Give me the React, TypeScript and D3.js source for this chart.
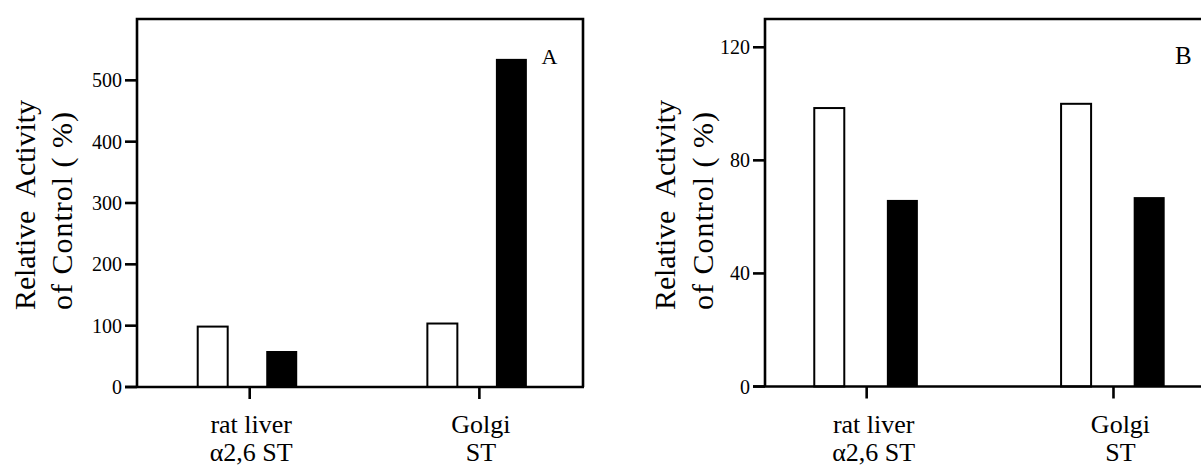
import React from "react";
import * as d3 from "d3";

const categories = ["rat liver|α2,6 ST", "Golgi|ST"];
const series = ["control", "treated"];
const panelAControl = [98.5, 103.5];
const panelATreated = [58.7, 535];
const panelBControl = [98.5, 100];
const panelBTreated = [66, 67];
const panelATicks = [0, 100, 200, 300, 400, 500];
const panelBTicks = [0, 40, 80, 120];
const yLabelLines = ["Relative  Activity", "of Control ( %)"];

const FONT = "'Liberation Serif', 'Times New Roman', serif";

type PanelCfg = {
  letter: string;
  x0: number;
  x1: number;
  yTop: number;
  yBase: number;
  yMax: number;
  ticks: number[];
  control: number[];
  treated: number[];
  pointPad: number;
  pointAlign: number;
  sub0: number;
  sub1: number;
  subPad: number;
  labelDx: number;
  yl1: number;
  yl2: number;
  letterX: number;
  letterSize: number;
};

const panels: PanelCfg[] = [
  {
    letter: "A", x0: 137, x1: 583, yTop: 19, yBase: 387, yMax: 600,
    ticks: panelATicks, control: panelAControl, treated: panelATreated,
    pointPad: 0.471, pointAlign: 0.521, sub0: -53, sub1: 48.5, subPad: 0.54,
    labelDx: 1.5, yl1: 35, yl2: 72, letterX: 541.5, letterSize: 22,
  },
  {
    letter: "B", x0: 765, x1: 1210, yTop: 19, yBase: 386.5, yMax: 130,
    ticks: panelBTicks, control: panelBControl, treated: panelBTreated,
    pointPad: 0.4015, pointAlign: 0.513, sub0: -53.4, sub1: 52.2, subPad: 0.565,
    labelDx: 7, yl1: 675, yl2: 713, letterX: 1175, letterSize: 25,
  },
];

function Panel({ p }: { p: PanelCfg }) {
  const x = d3.scalePoint<string>().domain(categories).range([p.x0, p.x1]).padding(p.pointPad).align(p.pointAlign);
  const sub = d3.scaleBand<string>().domain(series).range([p.sub0, p.sub1]).paddingInner(p.subPad).paddingOuter(0);
  const y = d3.scaleLinear().domain([0, p.yMax]).range([p.yBase, p.yTop]);
  const sw = 2.6;
  const bw = sub.bandwidth();
  return (
    <g>
      {/* bars */}
      {categories.map((c, i) => {
        const cx = x(c)!;
        const wx = cx + sub("control")!;
        const bx = cx + sub("treated")!;
        return (
          <g key={c}>
            <rect x={wx + 1} y={y(p.control[i])} width={bw - 2} height={p.yBase - y(p.control[i])}
              fill="#fff" stroke="#000" strokeWidth={2} />
            <rect x={bx} y={y(p.treated[i])} width={bw - 1} height={p.yBase - y(p.treated[i])} fill="#000" />
          </g>
        );
      })}
      {/* frame */}
      <path d={`M${p.x0},${p.yBase} L${p.x0},${p.yTop} L${p.x1},${p.yTop} L${p.x1},${p.yBase}`}
        fill="none" stroke="#000" strokeWidth={sw} />
      <line x1={p.x0 - 12} x2={p.x1 + 1} y1={p.yBase} y2={p.yBase} stroke="#000" strokeWidth={sw} />
      {/* y ticks */}
      {p.ticks.map((t) => (
        <g key={t}>
          <line x1={p.x0 - 12} x2={p.x0} y1={y(t)} y2={y(t)} stroke="#000" strokeWidth={sw} />
          <text x={p.x0 - 15} y={y(t)} dy="0.35em" textAnchor="end" fontSize={20} fontFamily={FONT}>{t}</text>
        </g>
      ))}
      {/* x ticks and labels */}
      {categories.map((c) => {
        const cx = x(c)!;
        const [l1, l2] = c.split("|");
        return (
          <g key={c}>
            <line x1={cx} x2={cx} y1={p.yBase} y2={p.yBase + 12} stroke="#000" strokeWidth={sw} />
            <text x={cx + p.labelDx} y={433} textAnchor="middle" fontSize={26} fontFamily={FONT}>{l1}</text>
            <text x={cx + p.labelDx} y={461} textAnchor="middle" fontSize={26} fontFamily={FONT}>{l2}</text>
          </g>
        );
      })}
      {/* y label */}
      <text transform={`translate(${p.yl1},310) rotate(-90)`} fontSize={30} fontFamily={FONT}
        textLength={210} lengthAdjust="spacing" style={{ whiteSpace: "pre" }}>{yLabelLines[0]}</text>
      <text transform={`translate(${p.yl2},310) rotate(-90)`} fontSize={30} fontFamily={FONT}
        textLength={198} lengthAdjust="spacing" style={{ whiteSpace: "pre" }}>{yLabelLines[1]}</text>
      {/* panel letter */}
      <text x={p.letterX} y={64} fontSize={p.letterSize} fontFamily={FONT}>{p.letter}</text>
    </g>
  );
}

export default function App() {
  return (
    <svg width={1201} height={466} style={{ position: "absolute", left: 0, top: 0, background: "#fff" }}>
      <rect x={0} y={0} width={1201} height={466} fill="#fff" />
      {panels.map((p) => (
        <Panel key={p.letter} p={p} />
      ))}
    </svg>
  );
}
